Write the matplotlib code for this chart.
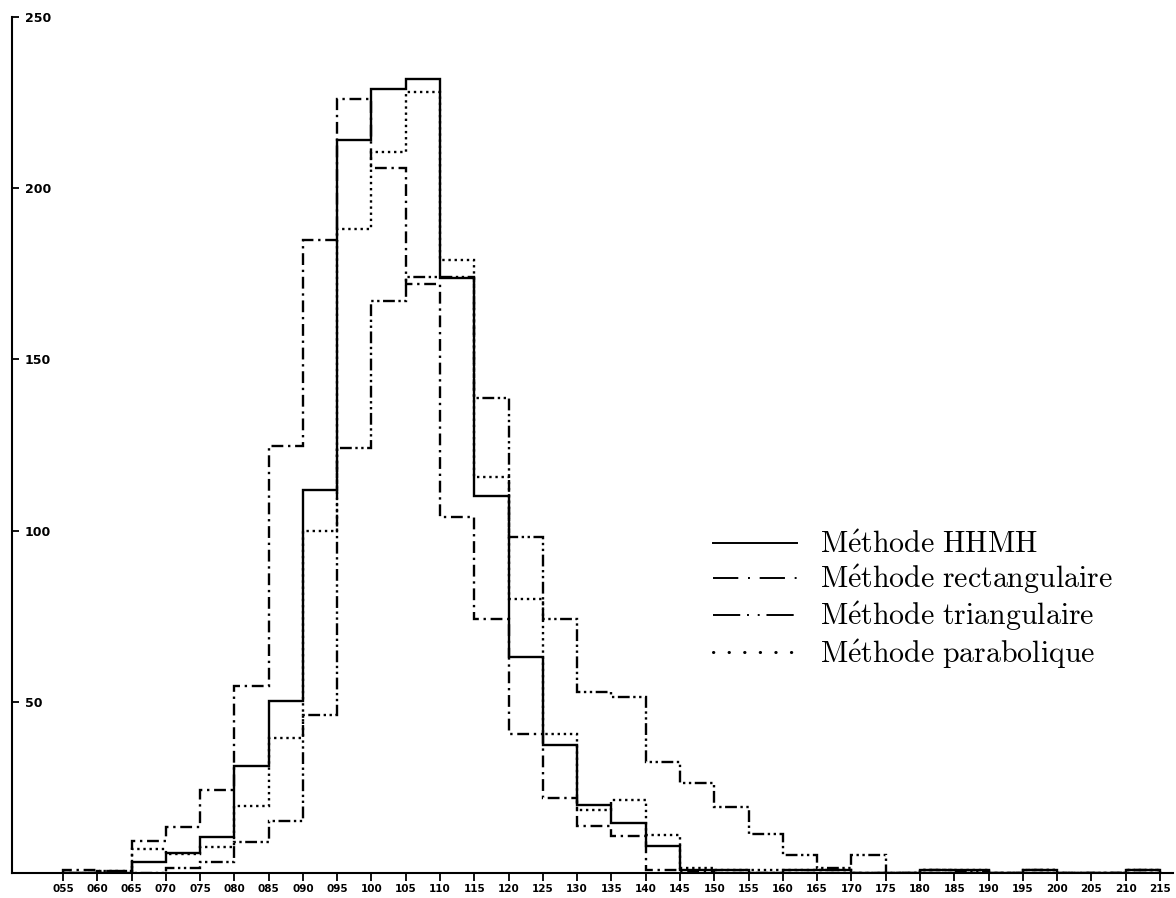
import matplotlib
matplotlib.use("Agg")
import matplotlib.pyplot as plt
from matplotlib.lines import Line2D
import numpy as np

plt.rcParams['mathtext.fontset'] = 'cm'

# bin edges 0.55 .. 2.15 step 0.05
edges = [0.55, 0.60, 0.65, 0.70, 0.75, 0.80, 0.85, 0.90, 0.95, 1.00, 1.05,
         1.10, 1.15, 1.20, 1.25, 1.30, 1.35, 1.40, 1.45, 1.50, 1.55, 1.60,
         1.65, 1.70, 1.75, 1.80, 1.85, 1.90, 1.95, 2.00, 2.05, 2.10, 2.15]
tick_labels = ["055", "060", "065", "070", "075", "080", "085", "090", "095",
               "100", "105", "110", "115", "120", "125", "130", "135", "140",
               "145", "150", "155", "160", "165", "170", "175", "180", "185",
               "190", "195", "200", "205", "210", "215"]

hhmh = [0, 0, 3.2, 5.8, 10.5, 31.2, 50.1, 112, 214, 229, 232, 173.8, 110, 63,
        37.3, 19.8, 14.6, 7.9, 1, 1, 0, 1, 1, 0, 0, 1, 1, 0, 1, 0, 0, 1]
rectangulaire = [1, 0.5, 9.3, 13.4, 24.2, 54.5, 124.8, 185, 226, 206, 172,
                 104, 74.3, 40.5, 21.9, 13.7, 10.8, 0.8, 0.5, 0, 0, 0, 0, 0,
                 0, 0, 0, 0, 0, 0, 0, 0]
triangulaire = [0, 0.5, 0, 1.5, 3.2, 9, 15.2, 46, 124, 167, 174, 174, 138.8,
                98, 74.3, 53, 51.3, 32.4, 26.2, 19.2, 11.4, 5.2, 1.5, 5.2, 0,
                1, 0.5, 0, 1, 0, 0, 1]
parabolique = [0, 0, 7, 5.5, 7.6, 19.5, 39.4, 100, 188, 210.5, 228, 179,
               115.7, 80, 40.5, 18.4, 21.3, 11, 1.5, 1, 1, 1, 1, 0, 0, 1, 1,
               0, 1, 0, 0, 1]
labels = [r"$\mathrm{M\acute{e}thode\ HHMH}$",
          r"$\mathrm{M\acute{e}thode\ rectangulaire}$",
          r"$\mathrm{M\acute{e}thode\ triangulaire}$",
          r"$\mathrm{M\acute{e}thode\ parabolique}$"]
yticks = [50, 100, 150, 200, 250]

fig = plt.figure(figsize=(11.76, 8.98), dpi=100)
ax = fig.add_axes([12/1176, 25/898, (1173-12)/1176, (873-17)/898])

lw = 1.7
ax.stairs(hhmh, edges, color='black', lw=lw, linestyle='-')
ax.stairs(rectangulaire, edges, color='black', lw=lw, linestyle=(0, (5, 2, 1, 2)))
ax.stairs(triangulaire, edges, color='black', lw=lw,
          linestyle=(0, (5, 1.5, 1, 1.5, 1, 1.5)))
ax.stairs(parabolique, edges, color='black', lw=lw, linestyle=(0, (1, 1.6)))

ax.set_xlim(0.4757, 2.169)
ax.set_ylim(0, 250)

for s in ['top', 'right']:
    ax.spines[s].set_visible(False)
for s in ['left', 'bottom']:
    ax.spines[s].set_linewidth(1.5)

ax.set_xticks(edges)
ax.set_xticklabels(tick_labels, fontsize=7.5, fontweight='bold', family='DejaVu Sans')
ax.tick_params(axis='x', direction='out', length=6, width=1.3, pad=2)

ax.set_yticks(yticks)
ax.set_yticklabels([str(v) for v in yticks], fontsize=9, fontweight='bold',
                   family='DejaVu Sans')
ax.tick_params(axis='y', direction='in', length=5, width=1.3, pad=-9)
for lbl in ax.get_yticklabels():
    lbl.set_horizontalalignment('left')

handles = [
    Line2D([], [], color='black', lw=1.4, linestyle='-'),
    Line2D([], [], color='black', lw=1.4, linestyle=(0, (13, 5, 1, 5))),
    Line2D([], [], color='black', lw=1.4, linestyle=(0, (14, 3.5, 1, 4.5, 1, 3.5))),
    Line2D([], [], color='black', lw=2.2, linestyle=(0, (0.1, 5)),
           dash_capstyle='round'),
]
fs = 21.5
leg = ax.legend(handles, labels, loc='upper left',
                bbox_to_anchor=(713/1176, 1 - 530/898),
                bbox_transform=fig.transFigure, frameon=False,
                fontsize=fs, handlelength=60.5/fs, handletextpad=16.5/fs,
                labelspacing=0.12, borderpad=0, borderaxespad=0)

fig.savefig("out.png", dpi=100)
